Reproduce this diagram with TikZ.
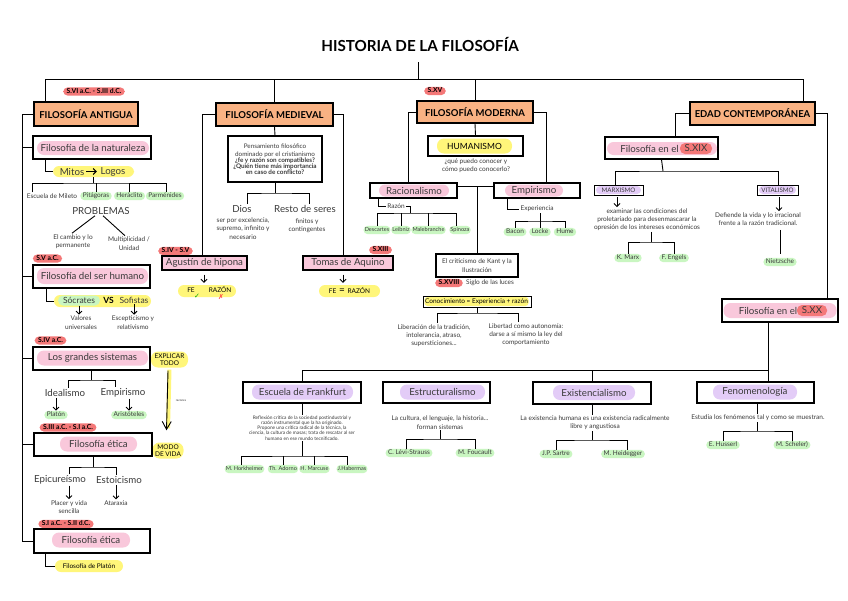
\documentclass[tikz,border=0pt]{standalone}
\usepackage{fontspec}
\setmainfont{Lato}
\newfontfamily\djv{DejaVu Sans}
\usetikzlibrary{arrows.meta,calc}
\definecolor{orangeC}{HTML}{F9B283}
\definecolor{pinkC}{HTML}{F9C8DB}
\definecolor{redC}{HTML}{F47878}
\definecolor{yelC}{HTML}{FFF67A}
\definecolor{greenC}{HTML}{C9F6C1}
\definecolor{lavC}{HTML}{E3CCF7}
\definecolor{txtC}{HTML}{3A3A3A}
\newcommand\FTitle{\fontsize{15.2}{18}\selectfont\bfseries}
\newcommand\FHead{\fontsize{9.5}{11}\selectfont\bfseries}
\newcommand\FBig{\fontsize{9.7}{11}\selectfont}
\newcommand\FMid{\fontsize{8.5}{10}\selectfont}
\newcommand\FSm{\fontsize{6.5}{8.3}\selectfont}
\newcommand\FTi{\fontsize{4.8}{5.2}\selectfont}
\newcommand\FLab{\fontsize{6.5}{7}\selectfont}
\tikzset{
 ln/.style={line width=0.9pt, draw=black},
 arr/.style={ln, -{Straight Barb[length=3pt,width=6pt]}},
 box/.style={draw, line width=1.1pt, fill=white, inner sep=0pt},
 head/.style={box, fill=orangeC, font=\FHead},
 pinkbox/.style={box, fill=pinkC, font=\FBig, text=txtC},
 pk/.style={fill=pinkC, rounded corners=7pt, inner sep=0pt, font=\FBig, text=txtC},
 lav/.style={fill=lavC, rounded corners=7pt, inner sep=0pt, font=\FBig, text=txtC},
 yl/.style={fill=yelC, rounded corners=6pt, inner sep=0pt},
 rd/.style={fill=redC, rounded corners=4.5pt, inner xsep=3.5pt, inner ysep=1pt, font=\fontsize{6.8}{7}\selectfont\bfseries, text height=5pt, text depth=1.2pt},
 gr/.style={fill=greenC, rounded corners=4pt, inner xsep=2.5pt, inner ysep=1.2pt, font=\FLab, text=txtC, text height=4.6pt, text depth=1.2pt},
 grs/.style={gr, font=\fontsize{5.6}{6}\selectfont, inner xsep=1.2pt},
 sm/.style={font=\FSm, text=txtC, align=center, inner sep=1pt},
 bg/.style={font=\FBig, text=txtC, inner sep=1pt},
 redin/.style={fill=redC, rounded corners=5pt, inner sep=0pt, font=\FBig, text=txtC},
 lavsm/.style={fill=lavC, rounded corners=4pt, inner sep=0pt, font=\fontsize{6.2}{6}\selectfont, text=txtC},
}
\begin{document}
\begin{tikzpicture}[x=1pt,y=-1pt]
\useasboundingbox[fill=white] (0,0) rectangle (848,600);

% title and top lines
\node[font=\FTitle] (title) at (420,44) {HISTORIA DE LA FILOSOFÍA};
\coordinate (tst) at (418,62);
\coordinate (hl) at (45,79);
\coordinate (hr) at (803,79);

\node[head, minimum width=104, minimum height=24] (ant) at (86,114) {FILOSOFÍA ANTIGUA};
\node[head, minimum width=117, minimum height=23] (med) at (274.5,114.5) {FILOSOFÍA MEDIEVAL};
\node[head, minimum width=116, minimum height=22] (mod) at (475,112) {FILOSOFÍA MODERNA};
\node[head, minimum width=125, minimum height=23] (edad) at (752.5,113.5) {EDAD CONTEMPORÁNEA};

\draw[ln] (tst) -- (tst |- hl);
\draw[ln] (ant.north -| hl) -- (hl) -- (hr) -- (edad.north -| hr);
\draw[ln] (med.north) -- (med.north |- hl);
\draw[ln] (mod.north) -- (mod.north |- hl);

\node[rd] (antd) at (94,91.5) {S.VI a.C. - S.III d.C.};
\node[rd] (sxv) at (435,91) {S.XV};

% ===== ANTIGUA =====
\coordinate (sp) at (22,114);
\node[box, minimum width=118, minimum height=23] (nat) at (92,147.5) {};
\node[pk, minimum width=112, minimum height=14] (natp) at (93,148) {Filosofía de la naturaleza};

\node[yl, minimum width=81, minimum height=11] (mitos) at (93.5,171.5) {};
\node[bg] (mt) at (72,171.5) {Mitos};
\node[bg] (lg) at (113,171.5) {Logos};
\draw[line width=1.1pt, -{Straight Barb[length=3pt,width=6pt]}, shorten <=1pt, shorten >=2.5pt] (mt) -- (lg);
\draw[ln] ([xshift=-47]nat.south) |- (mitos.west);

\node[sm] (mil) at (52,196) {Escuela de Mileto};
\node[gr] (pit) at (96,196) {Pitágoras};
\node[gr] (her) at (129.5,196) {Heráclito};
\node[gr] (par) at (165,196) {Parménides};
\coordinate (mbk) at (93.5,183);
\draw[ln] (mitos.south) -- (mbk);
\draw[ln] ([xshift=-20]mil.north) |- (mbk) -| ([xshift=1]par.north);
\draw[ln] (pit.north) -- (pit.north |- mbk);
\draw[ln] (her.north) -- (her.north |- mbk);

\node[bg] (prob) at (101,211) {PROBLEMAS};
\node[sm] (camb) at (73,241.5) {El cambio y lo\\permanente};
\node[sm] (mult) at (129,243.5) {Multiplicidad /\\Unidad};
\draw[ln] ([xshift=-6]prob.south) -- ([xshift=-1]camb.north);
\draw[ln] ([xshift=2]prob.south) -- ([xshift=-4]mult.north);

\node[rd] (svac) at (47.5,258.5) {S.V a.C.};
\node[box, minimum width=117, minimum height=23] (ser) at (91.5,276.5) {};
\node[pk, minimum width=111, minimum height=16] (serp) at (92.5,276) {Filosofía del ser humano};
\node[yl, minimum width=97, minimum height=12] (svs) at (102.5,301) {};
\node[fill=greenC, rounded corners=5pt, minimum width=42, minimum height=10, inner sep=0pt, font=\FMid, text=txtC] (soc) at (79,300.5) {Sócrates};
\node[font=\FMid\bfseries, inner sep=0pt] (vs) at (108.5,300.5) {VS};
\node[font=\FMid, text=txtC, inner sep=0pt] (sof) at (134,300.5) {Sofistas};
\draw[ln] ([xshift=-45.5]ser.south) |- (svs.west);
\node[sm] (valo) at (81,322.5) {Valores\\universales};
\node[sm] (esce) at (133,322.5) {Escepticismo y\\relativismo};
\draw[arr] (soc.south) -- (soc.south |- valo.north);
\draw[arr] (sof.south) -- (sof.south |- esce.north);

\node[rd] (sivac) at (50.5,340.5) {S.IV a.C.};
\node[box, minimum width=117, minimum height=23] (sis) at (91.5,358.5) {};
\node[pk, minimum width=111, minimum height=15] (sisp) at (92.5,358) {Los grandes sistemas};
\node[yl, minimum width=37, minimum height=16, align=center, font=\fontsize{6.5}{7}\selectfont, rounded corners=7pt] (expl) at (169.5,359.5) {EXPLICAR\\TODO};

\coordinate (sbk) at (91.5,380);
\node[bg] (idea) at (65,393) {Idealismo};
\node[bg] (emp1) at (123,393) {Empirismo};
\draw[ln] (sis.south) -- (sbk);
\draw[ln] ([xshift=3]idea.north) |- (sbk) -| ([xshift=-8]emp1.north);
\node[gr] (plat) at (56,415) {Platón};
\node[gr] (aris) at (129,415) {Aristóteles};
\draw[arr] (idea.south -| plat.north) -- (plat.north);
\draw[arr] (emp1.south -| aris.north) -- (aris.north);

\node[yl, minimum width=31, minimum height=16, align=center, font=\fontsize{6.5}{7}\selectfont, rounded corners=7pt] (modo) at (168,450.5) {MODO\\DE VIDA};
\draw[yelC, line width=4pt] ([yshift=-2]expl.south) -- ([yshift=14]modo.north);
\draw[line width=0.9pt, -{Straight Barb[length=8pt,width=9pt]}] ([xshift=-1.5,yshift=-3]expl.south) -- ([xshift=-1.5,yshift=12]modo.north);
\node[font=\fontsize{3}{3}\selectfont, text=txtC, inner sep=0pt] (razo) at (181,401) {razones};

\node[rd] (siiiac) at (68,427.5) {S.III a.C. - S.I a.C.};
\node[box, minimum width=118, minimum height=23] (eti1) at (93,444.5) {};
\node[pk, minimum width=77, minimum height=15] (eti1p) at (98.5,444) {Filosofía ética};
\coordinate (ebk1) at (93,467);
\node[bg] (epi) at (60,480) {Epicureísmo};
\node[bg] (esto) at (119,480) {Estoicismo};
\draw[ln] (eti1.south) -- (ebk1);
\draw[ln] ([xshift=9]epi.north) |- (ebk1) -| ([xshift=-3]esto.north);
\node[sm] (plac) at (69,507) {Placer y vida\\sencilla};
\node[sm] (atar) at (116,503) {Ataraxia};
\draw[arr] (epi.south -| plac.north) -- (plac.north);
\draw[arr] (esto.south -| atar.north) -- (atar.north);

\node[rd] (siac) at (66,524) {S.I a.C. - S.II d.C.};
\node[box, minimum width=116, minimum height=24] (eti2) at (92,541) {};
\node[pk, minimum width=78, minimum height=15] (eti2p) at (91,540) {Filosofía ética};
\node[yl, minimum width=68, minimum height=12, font=\FLab] (plat2) at (89,566) {Filosofía de Platón};
\draw[ln] ([xshift=-47]eti2.south) |- (plat2.west);

\draw[ln] (ant.west) -- (sp) -- (sp |- eti2.west) -- (eti2.west);
\draw[ln] (sp |- nat.west) -- (nat.west);
\draw[ln] (sp |- ser.west) -- (ser.west);
\draw[ln] (sp |- sis.west) -- (sis.west);
\draw[ln] (sp |- eti1.west) -- (eti1.west);

% ===== MEDIEVAL =====
\node[box, minimum width=94, minimum height=46, align=center, font=\fontsize{6.3}{7.8}\selectfont, text=txtC] (pen) at (275,159) {Pensamiento filosófico\\dominado por el cristianismo\\[-1.5pt]\textbf{¿fe y razón son compatibles?}\\[-2pt]\textbf{¿Quién tiene más importancia}\\[-2pt]\textbf{en caso de conflicto?}};
\draw[ln] (med.south) -- (pen.north);
\coordinate (pbk) at (275,193);
\node[bg] (dios) at (242,209) {Dios};
\node[bg] (rest) at (305,209) {Resto de seres};
\draw[ln] (pen.south) -- (pbk);
\draw[ln] ([xshift=5]dios.north) |- (pbk) -| ([xshift=4]rest.north);
\node[sm] (diost) at (243,228.5) {ser por excelencia,\\supremo, infinito y\\necesario};
\node[sm] (restt) at (307,226) {finitos y\\contingentes};

\node[rd] (sivv) at (175.5,251) {S.IV - S.V};
\node[pinkbox, minimum width=85, minimum height=14] (agu) at (204.5,263) {Agustín de hipona};
\node[rd] (sxiii) at (380.5,250) {S.XIII};
\node[pinkbox, minimum width=90, minimum height=14] (tom) at (348,263) {Tomas de Aquino};
\draw[ln] (med.west) -| ([xshift=-2.5]agu.north);
\draw[ln] (med.east) -| ([xshift=-5]tom.north);

\node[yl, minimum width=58, minimum height=12] (fe1) at (207,291) {};
\node[font=\FLab, inner sep=0pt] (fe1a) at (191,290) {FE};
\node[font=\FLab, inner sep=0pt] (fe1b) at (220,290) {RAZÓN};
\node[font=\djv\fontsize{7}{7}\selectfont, text=green!65!black, inner sep=0pt] (chk) at (197,296) {✓};
\node[font=\djv\fontsize{7}{7}\selectfont, text=red!75, inner sep=0pt] (crs) at (221,297) {✗};
\draw[arr, shorten <=4pt, shorten >=2pt] ([xshift=-0.5]agu.south) -- ([xshift=-0.5]agu.south |- fe1.north);

\node[yl, minimum width=61, minimum height=12, font=\FLab] (fe2) at (349.5,291) {FE \,{\fontsize{10}{9}\selectfont =}\, RAZÓN};
\draw[arr, shorten <=4pt, shorten >=2pt] ([xshift=-5]tom.south) -- ([xshift=-5]tom.south |- fe2.north);

% ===== MODERNA =====
\node[box, minimum width=95, minimum height=20] (hum) at (475.5,146) {};
\node[yl, minimum width=75, minimum height=15, font=\FMid, rounded corners=7pt] (hump) at (474.5,146) {HUMANISMO};
\draw[ln] (mod.south) -- (hum.north);
\node[sm] (humt) at (476,166) {¿qué puedo conocer y\\cómo puedo conocerlo?};

\node[box, minimum width=87, minimum height=15] (rac) at (413.5,190.5) {};
\node[pk, minimum width=70, minimum height=12, rounded corners=6pt] (racp) at (414,190.5) {Racionalismo};
\node[box, minimum width=86, minimum height=15] (empb) at (537,190.5) {};
\node[pk, minimum width=58, minimum height=12, rounded corners=6pt] (empp) at (534,190.5) {Empirismo};
\draw[ln] (mod.west) -| ([xshift=-5.5]rac.north);
\draw[ln] (mod.east) -| ([xshift=9]empb.north);
\draw[ln] ([yshift=4.5]rac.east) -- ([yshift=4.5]empb.west);
\coordinate (mj) at (477,186);
\node[box, minimum width=82, minimum height=23, font=\FSm, align=center, text=txtC] (kant) at (477,265.5) {El criticismo de Kant y la\\Ilustración};
\draw[ln] (mj) -- (kant.north);

\node[sm] (razn) at (396,206) {Razón};
\draw[ln] ([xshift=-35.5]rac.south) |- (razn.west);
\coordinate (rbk) at (410,213);
\node[grs] (desc) at (377,230) {Descartes};
\node[grs] (leib) at (401,230) {Leibniz};
\node[grs] (male) at (428.5,230) {Malebranche};
\node[grs] (spin) at (460,230) {Spinoza};
\draw[ln] (razn.east) -| (rbk);
\draw[ln] (desc.north) |- (rbk) -| ([xshift=-4]spin.north);
\draw[ln] (leib.north) -- (leib.north |- rbk);
\draw[ln] (male.north) -- (male.north |- rbk);

\node[sm] (expe) at (537,209) {Experiencia};
\draw[ln] ([xshift=-30]empb.south) |- (expe.west);
\coordinate (ebk) at (540,221);
\draw[ln] (expe.south -| ebk) -- (ebk);
\node[gr] (baco) at (515,232) {Bacon};
\node[gr] (lock) at (540,232) {Locke};
\node[gr] (hume) at (565,232) {Hume};
\draw[ln] (baco.north) |- (ebk) -| (hume.north);
\draw[ln] (lock.north) -- (lock.north |- ebk);

\node[rd] (sxviii) at (449,283) {S.XVIII};
\node[sm, anchor=west] (siglo) at (465,283) {Siglo de las luces};
\node[box, line width=0.9pt, minimum width=108, minimum height=11] (con) at (477,301.5) {};
\node[yl, minimum width=104, minimum height=9, rounded corners=3pt, font=\FSm] (conp) at (476.5,301.5) {Conocimiento = Experiencia + razón};
\coordinate (cbk) at (477,313);
\draw[ln] (con.south) -- (cbk);
\node[sm] (lib1) at (434,335.5) {Liberación de la tradición,\\intolerancia, atraso,\\supersticiones...};
\node[sm] (lib2) at (526,334.5) {Libertad como autonomía:\\darse a sí mismo la ley del\\comportamiento};
\draw[ln] ([xshift=3]lib1.north) |- (cbk) -| ([xshift=-8]lib2.north);

% ===== CONTEMPORANEA =====
\node[box, minimum width=113, minimum height=22] (s19) at (661.5,148) {};
\node[pk, minimum width=110, minimum height=13, rounded corners=6.5pt] (s19p) at (662,148.5) {};
\node[bg] (s19t) at (649.5,148.5) {Filosofía en el};
\node[redin, minimum width=32, minimum height=11] (s19r) at (696,148.5) {S.XIX};

\node[box, minimum width=116, minimum height=23] (s20) at (780,310.5) {};
\node[pk, minimum width=113, minimum height=15] (s20p) at (780,310.5) {};
\node[bg] (s20t) at (768,310.5) {Filosofía en el};
\node[redin, minimum width=30, minimum height=11] (s20r) at (812,310.5) {S.XX};

\draw[ln] (edad.west) -| ([xshift=13.5]s19.north);
\draw[ln] (edad.east) -| ([xshift=47]s20.north);

\coordinate (xbk) at (663,171);
\node[box, line width=0.9pt, minimum width=49, minimum height=10] (marx) at (618.5,190) {};
\node[lavsm, minimum width=45, minimum height=8] (marxp) at (618.5,190) {MARXISMO};
\node[box, line width=0.9pt, minimum width=41, minimum height=10] (vit) at (777.5,190) {};
\node[lavsm, minimum width=37, minimum height=8] (vitp) at (777.5,190) {VITALISMO};
\draw[ln] (s19.south) -- (xbk);
\draw[ln] ([xshift=-3]marx.north) |- (xbk) -| ([xshift=1]vit.north);

\node[sm] (marxt) at (647,219.5) {examinar las condiciones del\\proletariado para desenmascarar la\\opresión de los intereses económicos};
\draw[arr, shorten <=2pt] ([xshift=-1.5]marx.south) -- ([xshift=-1.5]marx.south |- marxt.north);
\node[sm] (vitt) at (758,219) {Defiende la vida y lo irracional\\frente a la razón tradicional.};
\draw[arr, shorten <=2pt] ([xshift=1.5]vit.south) -- ([xshift=1.5]vit.south |- vitt.north);

\coordinate (mkb) at (651,242);
\node[gr] (kmar) at (628,258) {K. Marx};
\node[gr] (feng) at (674,258) {F. Engels};
\draw[ln] (marxt.south -| mkb) -- (mkb);
\draw[ln] (kmar.north) |- (mkb) -| (feng.north);
\node[gr] (niet) at (780,262) {Nietzsche};
\draw[ln] ([yshift=-3]vitt.south -| niet.north) -- ([yshift=4]niet.north);

% ===== S.XX branches =====
\coordinate (hb) at (768,370);
\node[box, minimum width=118, minimum height=21] (fra) at (302,392.5) {};
\node[lav, minimum width=101, minimum height=15] (frap) at (302.5,392) {Escuela de Frankfurt};
\node[box, minimum width=107, minimum height=21] (estr) at (436.5,392.5) {};
\node[lav, minimum width=85, minimum height=15] (estrp) at (442.5,392) {Estructuralismo};
\node[box, minimum width=118, minimum height=22] (exis) at (592,393) {};
\node[lav, minimum width=82, minimum height=15] (exisp) at (594,392.5) {Existencialismo};
\node[box, minimum width=117, minimum height=21] (fen) at (755.5,392.5) {};
\node[lav, minimum width=84, minimum height=15] (fenp) at (755,392) {Fenomenología};

\draw[ln] ([xshift=-12]s20.south) -- (hb) -| (fra.north);
\draw[ln] (exis.north) -- (exis.north |- hb);
\draw[ln] (hb) -- ([xshift=12.5]fen.north);

\node[font=\FTi, text=txtC, align=center, inner sep=1pt] (frat) at (302,428) {Reflexión crítica de la sociedad postindustrial y\\razón instrumental que la ha originado.\\Propone una crítica radical de la técnica, la\\ciencia, la cultura de masas; trata de rescatar al ser\\humano en ese mundo tecnificado.};
\draw[ln] (fra.south) -- (frat.north);
\coordinate (fbk) at (302,456);
\draw[ln] (frat.south) -- (fbk);
\node[grs] (hork) at (244.5,469) {M. Horkheimer};
\node[grs] (ador) at (283,469) {Th. Adorno};
\node[grs] (marc) at (314.5,469) {H. Marcuse};
\node[grs] (habe) at (352,469) {J.Habermas};
\draw[ln] ([xshift=-3]hork.north) |- (fbk) -| ([xshift=-5]habe.north);
\draw[ln] (ador.north) -- (ador.north |- fbk);
\draw[ln] (marc.north) -- (marc.north |- fbk);

\node[sm] (estt) at (440,422.5) {La cultura, el lenguaje, la historia...\\forman sistemas};
\coordinate (sbk2) at (440,439);
\draw[ln] (estt.south) -- (sbk2);
\node[gr] (levi) at (409,453) {C. Lévi-Strauss};
\node[gr] (fouc) at (475,453) {M. Foucault};
\draw[ln] ([xshift=-3]levi.north) |- (sbk2) -| (fouc.north);

\node[sm] (exit) at (595,423) {La existencia humana es una existencia radicalmente\\libre y angustiosa};
\draw[ln] (exis.south) -- (exis.south |- exit.north);
\coordinate (xbk2) at (592,440);
\draw[ln] (exit.south -| xbk2) -- (xbk2);
\node[gr] (sart) at (556,454) {J.P. Sartre};
\node[gr] (heid) at (623,454) {M. Heidegger};
\draw[ln] (sart.north) |- (xbk2) -| ([xshift=4]heid.north);

\node[sm] (fent) at (758,418) {Estudia los fenómenos tal y como se muestran.};
\draw[ln] ([xshift=1.5]fen.south) -- ([xshift=1.5]fen.south |- fent.north);
\coordinate (fbk2) at (757,431);
\draw[ln] (fent.south -| fbk2) -- (fbk2);
\node[gr] (huss) at (723,445) {E. Husserl};
\node[gr] (sche) at (792,445) {M. Scheler)};
\draw[ln] (huss.north) |- (fbk2) -| (sche.north);
\end{tikzpicture}
\end{document}
